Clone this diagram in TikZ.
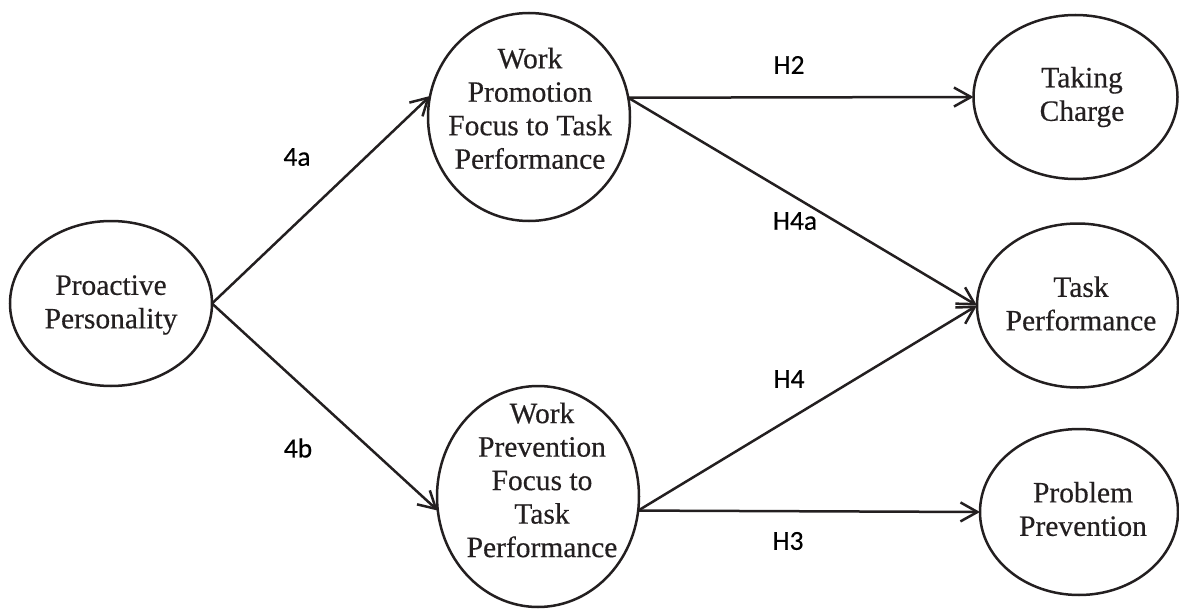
\documentclass[tikz,border=0pt]{standalone}
\usepackage{fontspec}
\setmainfont{Liberation Serif}[FakeBold=0.4]
\newfontfamily\labelfont{Carlito}[FakeBold=0.4]
\usetikzlibrary{arrows.meta,shapes.geometric}
\definecolor{linecol}{HTML}{231F20}
\begin{document}
\begin{tikzpicture}[x=1pt,y=-1pt,
  ell/.style={ellipse,draw=linecol,line width=2.5pt,inner sep=0pt,outer sep=0pt},
  txt/.style={align=center,font=\fontsize{29.5}{33.5}\selectfont,inner sep=0pt,text=linecol},
  lab/.style={font=\labelfont\fontsize{27.5}{33}\selectfont,inner sep=0pt,text=black},
  arr/.style={draw=linecol,line width=2.5pt,-{Straight Barb[length=17pt,width=19pt]}}]
\useasboundingbox (0,0) rectangle (1179,610);
% ellipses
\node[ell,minimum width=202pt,minimum height=165pt] (pro) at (111,303.5) {};
\node[ell,minimum width=202pt,minimum height=208pt] (wpro) at (529,117) {};
\node[ell,minimum width=202pt,minimum height=221pt] (wprev) at (538,496.5) {};
\node[ell,minimum width=204pt,minimum height=164pt] (tc) at (1075.5,97) {};
\node[ell,minimum width=201pt,minimum height=164pt] (tp) at (1077.5,305.5) {};
\node[ell,minimum width=198pt,minimum height=166pt] (ppv) at (1079,512) {};
% texts
\node[txt] (proT) at (111,305) {Proactive\\Personality};
\node[txt] (wproT) at (530,108.4) {Work\\Promotion\\Focus to Task\\Performance};
\node[txt] (wprevT) at (542,480) {Work\\Prevention\\Focus to\\Task\\Performance};
\node[txt] (tcT) at (1082,97) {Taking\\Charge};
\node[txt] (tpT) at (1081,303.5) {Task\\Performance};
\node[txt] (ppvT) at (1083,509) {Problem\\Prevention};
% connectors
\draw[arr] (pro.east) -- (wpro.168.6);
\draw[arr] (pro.east) -- (wprev.188.8);
\draw[arr] (wpro.11.4) -- (tc.west);
\draw[arr] (wpro.11.4) -- (tp.west);
\draw[arr] (wprev.-8.8) -- (tp.west);
\draw[arr] (wprev.-8.8) -- (ppv.west);
% labels
\node[lab] (l4a) at (297,157) {4a};
\node[lab] (l4b) at (298,448) {4b};
\node[lab] (h2) at (789,65) {H2};
\node[lab] (h4a) at (795,221) {H4a};
\node[lab] (h4) at (789,379) {H4};
\node[lab] (h3) at (788,541) {H3};
\end{tikzpicture}
\end{document}
